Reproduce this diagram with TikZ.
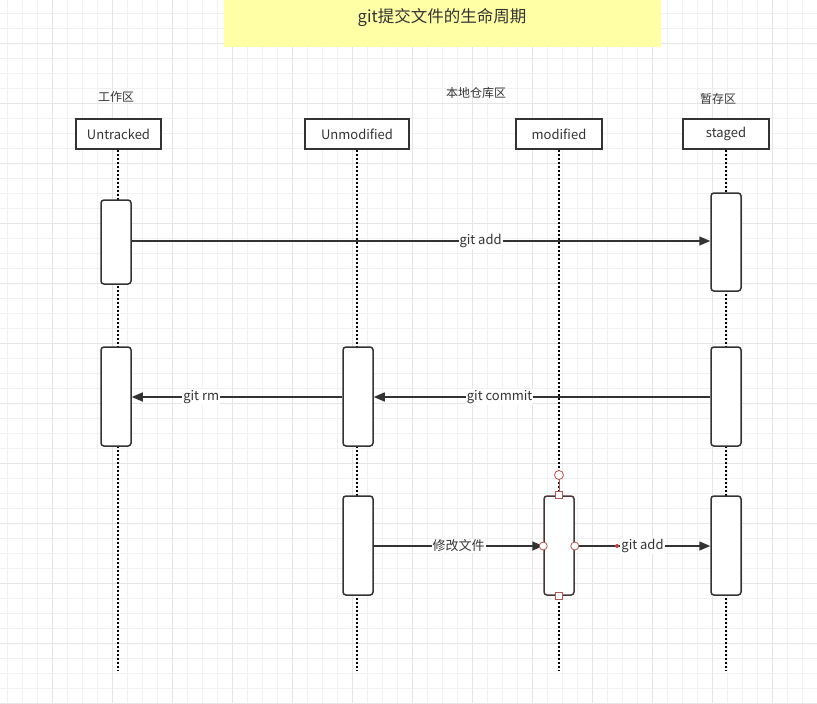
\documentclass[tikz,border=0pt]{standalone}
\usepackage{fontspec}
\setmainfont{Noto Sans CJK SC}
\usetikzlibrary{arrows.meta}
\definecolor{ink}{HTML}{333333}
\definecolor{gridminor}{HTML}{F1F1F1}
\definecolor{gridmajor}{HTML}{E5E5E5}
\definecolor{titlefill}{HTML}{FFFFA6}
\definecolor{selred}{HTML}{B85450}
\tikzset{
  hdr/.style={draw=ink, line width=1.6pt, fill=white, minimum height=30pt, inner sep=0pt, font=\fontsize{13}{15}\selectfont, text=ink},
  act/.style={draw=ink, line width=1.5pt, fill=white, rounded corners=3pt, minimum width=30pt, inner sep=0pt},
  life/.style={line width=2pt, dash pattern=on 2pt off 2pt, black},
  msg/.style={draw=ink, line width=1.5pt, -{Triangle[length=11pt,width=9pt]}},
  lbl/.style={fill=white, inner sep=1pt, font=\fontsize{13}{15}\selectfont, text=ink},
  zone/.style={font=\fontsize{12}{14}\selectfont, text=ink},
  handle/.style={draw=selred, fill=white, line width=0.8pt},
}
\begin{document}
\begin{tikzpicture}[x=1pt,y=-1pt]
\useasboundingbox (0,0) rectangle (817,704);
\fill[white] (0,0) rectangle (817,704);
% grid
\foreach \i in {0,...,54} {
  \pgfmathsetmacro{\gx}{7+15*\i}
  \draw[gridminor, line width=1pt] (\gx,0) -- (\gx,704);
}
\foreach \i in {0,...,46} {
  \pgfmathsetmacro{\gy}{13+15*\i}
  \draw[gridminor, line width=1pt] (0,\gy) -- (817,\gy);
}
\foreach \i in {0,...,13} {
  \pgfmathsetmacro{\gx}{52+60*\i}
  \draw[gridmajor, line width=1pt] (\gx,0) -- (\gx,704);
}
\foreach \i in {0,...,11} {
  \pgfmathsetmacro{\gy}{43+60*\i}
  \draw[gridmajor, line width=1pt] (0,\gy) -- (817,\gy);
}
% title
\node[fill=titlefill, minimum width=437pt, minimum height=47pt, inner sep=0pt, anchor=north west] (title) at (224,0) {};
\node[font=\fontsize{16.5}{19}\selectfont, text=ink] (titletext) at (442,18) {git提交文件的生命周期};
% zone labels
\node[zone] (z1) at (116,97) {工作区};
\node[zone] (z2) at (476,93) {本地仓库区};
\node[zone] (z3) at (718,99) {暂存区};
% headers
\node[hdr, minimum width=85pt] (untracked) at (118.5,134) {Untracked};
\node[hdr, minimum width=104pt] (unmodified) at (357,134) {Unmodified};
\node[hdr, minimum width=86pt] (modified) at (559,134) {modified};
\node[hdr, minimum width=86pt] (staged) at (726,134) {staged};
% lifelines
\coordinate (e1) at (118,670);
\coordinate (e2) at (357,670);
\coordinate (e3) at (559,670);
\coordinate (e4) at (726,670);
\draw[life] (untracked.south) ++(-0.5,0) -- (e1);
\draw[life] (unmodified.south) -- (e2);
\draw[life] (modified.south) -- (e3);
\draw[life] (staged.south) -- (e4);
% activations
\node[act, minimum height=84pt] (u1) at (116,242) {};
\node[act, minimum height=99pt] (u2) at (116,396.5) {};
\node[act, minimum height=98pt] (s1) at (726,242) {};
\node[act, minimum height=99pt] (s2) at (726,396.5) {};
\node[act, minimum height=99pt] (s3) at (726,545.5) {};
\node[act, minimum height=99pt] (m1) at (358,396.5) {};
\node[act, minimum height=99pt] (m2) at (358,545.5) {};
\node[act, draw=ink!85!selred, minimum height=99pt] (d1) at (559,545.5) {};
% messages
\draw[msg] (u1.east |- 0,241) -- node[lbl, pos=0.603] (l1) {git add} (s1.west |- 0,241);
\draw[msg] (s2.west |- 0,397) -- node[lbl, pos=0.626] (l2) {git commit} (m1.east |- 0,397);
\draw[msg] (m1.west |- 0,397) -- node[lbl, pos=0.67] (l3) {git rm} (u2.east |- 0,397);
\draw[msg] (m2.east |- 0,546) -- node[lbl, pos=0.5] (l4) {修改文件} (d1.west |- 0,546);
\draw[msg] (d1.east |- 0,546) -- node[lbl, pos=0.5] (l5) {git add} (s3.west |- 0,546);
% selection handles
\node[handle, circle, minimum size=9pt, inner sep=0pt] (h0) at (559,475) {};
\draw[selred, line width=0.8pt] (h0.south) -- (d1.north);
\node[handle, minimum size=7pt, inner sep=0pt] (h1) at (d1.north) {};
\node[handle, minimum size=7pt, inner sep=0pt] (h2) at (d1.south) {};
\node[handle, circle, minimum size=8pt, inner sep=0pt] (h3) at (d1.west |- 0,546) {};
\node[handle, circle, minimum size=8pt, inner sep=0pt] (h4) at (d1.east |- 0,546) {};
\node[circle, fill=selred!80!red, minimum size=4pt, inner sep=0pt] (h5) at (617,546) {};
\end{tikzpicture}
\end{document}
